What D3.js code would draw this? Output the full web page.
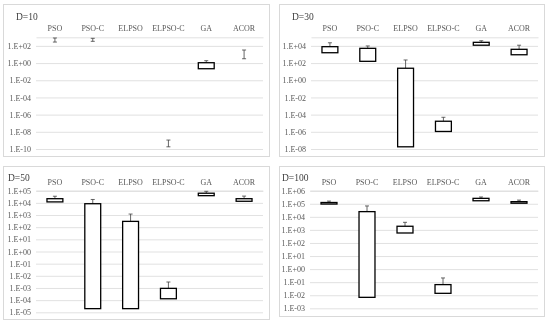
<!DOCTYPE html>
<html>
<head>
<meta charset="utf-8">
<script src="https://cdn.jsdelivr.net/npm/d3@7"></script>
<style>
  body { margin: 0; background: #fff; }
  svg { will-change: transform; }
</style>
</head>
<body>
<div id="chart"></div>
<script>
const serif = "'Liberation Serif', 'Times New Roman', serif";

// categories shared by all four panels
const categories = ["PSO", "PSO-C", "ELPSO", "ELPSO-C", "GA", "ACOR"];

// box bottom / box top / error bar top, per panel (null = nothing drawn)
// when bottom == top only the error bar (with both caps) is visible
const d10_low  = [280, 340, null, 1.8e-10, 0.22, 3.2];
const d10_high = [280, 340, null, 1.8e-10, 1.1, 3.2];
const d10_err  = [830, 760, null, 1.1e-9, 1.9, 33];

const d30_low  = [1.6e3, 160, 1.8e-8, 1.1e-6, 1.2e4, 930];
const d30_high = [8.1e3, 5.2e3, 25, 1.7e-5, 2.6e4, 4.0e3];
const d30_err  = [2.3e4, 9.8e3, 230, 4.9e-5, 4.0e4, 1.2e4];

const d50_low  = [1.2e4, 2.0e-5, 2.0e-5, 1.3e-4, 3.9e4, 1.35e4];
const d50_high = [2.2e4, 8.5e3, 300, 9.3e-4, 6.2e4, 2.2e4];
const d50_err  = [3.5e4, 1.9e4, 1.2e3, 3.1e-3, 8.9e4, 3.6e4];

const d100_low  = [9.5e4, 6.9e-3, 580, 0.014, 1.7e5, 1.1e5];
const d100_high = [1.25e5, 2.5e4, 1.9e3, 0.065, 2.6e5, 1.45e5];
const d100_err  = [1.6e5, 6.8e4, 3.8e3, 0.21, 3.3e5, 1.9e5];

// axis exponent ranges and label steps
const d10_exp = [-10, 3, 2];
const d30_exp = [-8, 5, 2];
const d50_exp = [-5, 5, 1];
const d100_exp = [-3, 6, 1];

const panels = [
  { title: "D=10", low: d10_low, high: d10_high, err: d10_err, exp: d10_exp,
    box: [3, 4, 266, 152], plot: [36, 37.3, 263, 149], titleX: 16, titleY: 19.5 },
  { title: "D=30", low: d30_low, high: d30_high, err: d30_err, exp: d30_exp,
    box: [279, 4, 265, 152], plot: [311, 37.3, 538, 149], titleX: 292, titleY: 19.5 },
  { title: "D=50", low: d50_low, high: d50_high, err: d50_err, exp: d50_exp,
    box: [3, 166, 266, 153], plot: [36, 190.7, 263, 312.3], titleX: 8, titleY: 180.5 },
  { title: "D=100", low: d100_low, high: d100_high, err: d100_err, exp: d100_exp,
    box: [279, 166, 265, 150], plot: [310, 190.7, 538, 308.3], titleX: 282, titleY: 180.5 }
];

const svg = d3.select("#chart")
  .append("svg")
  .attr("width", 550)
  .attr("height", 324);

function fmtExp(e) {
  const s = e < 0 ? "-" : "+";
  return "1.E" + s + String(Math.abs(e)).padStart(2, "0");
}

panels.forEach(p => {
  const g = svg.append("g");

  // panel frame
  g.append("rect")
    .attr("x", p.box[0] + 0.5).attr("y", p.box[1] + 0.5)
    .attr("width", p.box[2]).attr("height", p.box[3])
    .attr("fill", "#fff")
    .attr("stroke", "#d9d9d9")
    .attr("stroke-width", 1);

  const [x0, y0, x1, y1] = p.plot;
  const w = x1 - x0;

  const xScale = d3.scaleBand()
    .domain(categories)
    .range([x0, x1]);

  const yScale = d3.scaleLog()
    .domain([Math.pow(10, p.exp[0]), Math.pow(10, p.exp[1])])
    .range([y1, y0]);

  const ticks = d3.range(p.exp[0], p.exp[1] + 0.5, p.exp[2]).map(e => Math.pow(10, e));

  // y axis with gridlines
  const yAxis = g.append("g")
    .attr("transform", `translate(${x0},0)`)
    .call(d3.axisLeft(yScale)
      .tickValues(ticks)
      .tickSize(-w)
      .tickPadding(5)
      .tickFormat(d => fmtExp(Math.round(Math.log10(d)))));
  yAxis.attr("font-family", null);
  yAxis.select(".domain").remove();
  yAxis.selectAll(".tick line").attr("stroke", "#d9d9d9").attr("stroke-width", 0.8);
  yAxis.selectAll(".tick text")
    .attr("fill", "#595959")
    .style("font-family", serif)
    .style("font-size", "8px");

  // category axis at the top (crosses at max)
  const xAxis = g.append("g")
    .attr("transform", `translate(0,${y0})`)
    .call(d3.axisTop(xScale).tickSize(0).tickPadding(6));
  xAxis.attr("font-family", null);
  xAxis.select(".domain").attr("stroke", "#d9d9d9").attr("stroke-width", 0.8);
  xAxis.selectAll(".tick text")
    .attr("fill", "#595959")
    .style("font-family", serif)
    .style("font-size", "8px");

  // title
  g.append("text")
    .attr("x", p.titleX)
    .attr("y", p.titleY)
    .attr("fill", "#404040")
    .style("font-family", serif)
    .style("font-size", "9.5px")
    .text(p.title);

  const rows = categories.map((c, i) => ({ cat: c, low: p.low[i], high: p.high[i], err: p.err[i] }))
    .filter(d => d.low != null);

  const bw = xScale.bandwidth() * 0.42;
  const cap = 2;
  const mid = d => xScale(d.cat) + xScale.bandwidth() / 2;

  // error bars
  const eb = g.selectAll("g.err")
    .data(rows)
    .join("g")
    .attr("class", "err");
  eb.append("line")
    .attr("x1", mid)
    .attr("x2", mid)
    .attr("y1", d => yScale(d.high))
    .attr("y2", d => yScale(d.err))
    .attr("stroke", "#404040")
    .attr("stroke-width", 0.8);
  eb.append("line")
    .attr("x1", d => mid(d) - cap)
    .attr("x2", d => mid(d) + cap)
    .attr("y1", d => yScale(d.err))
    .attr("y2", d => yScale(d.err))
    .attr("stroke", "#404040")
    .attr("stroke-width", 0.8);
  eb.filter(d => d.low === d.high)
    .append("line")
    .attr("x1", d => mid(d) - cap)
    .attr("x2", d => mid(d) + cap)
    .attr("y1", d => yScale(d.high))
    .attr("y2", d => yScale(d.high))
    .attr("stroke", "#404040")
    .attr("stroke-width", 0.8);

  // floating boxes
  g.selectAll("rect.bar")
    .data(rows.filter(d => d.low !== d.high))
    .join("rect")
    .attr("class", "bar")
    .attr("x", d => xScale(d.cat) + (xScale.bandwidth() - bw) / 2)
    .attr("y", d => yScale(d.high))
    .attr("width", bw)
    .attr("height", d => yScale(d.low) - yScale(d.high))
    .attr("fill", "#fff")
    .attr("stroke", "#000")
    .attr("stroke-width", 1.3);
});
</script>
</body>
</html>
